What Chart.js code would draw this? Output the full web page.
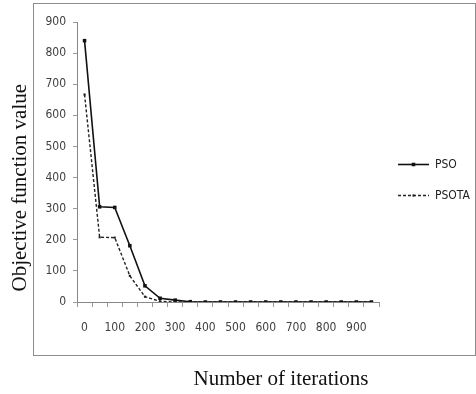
<!DOCTYPE html>
<html>
<head>
<meta charset="utf-8">
<script src="https://cdn.jsdelivr.net/npm/chart.js@4/dist/chart.umd.min.js"></script>
<style>
    body { margin: 0; background: #fff; }
    #wrap { position: relative; width: 476px; height: 394px; }
    #frame {
        position: absolute; left: 33px; top: 3px; width: 443px; height: 353px;
        box-sizing: border-box; border: 1px solid #8c8c8c;
    }
    #chart { position: absolute; left: 0; top: 0; }
</style>
</head>
<body>
<div id="wrap">
    <div id="frame"></div>
    <canvas id="chart" width="476" height="394"></canvas>
</div>
<script>
// iterations (category axis)
const iterations = ['0', '50', '100', '150', '200', '250', '300', '350', '400', '450',
    '500', '550', '600', '650', '700', '750', '800', '850', '900', '950'];

// objective function value per iteration
const psoValues = [840, 306, 304, 181, 52, 12, 6, 1, 0, 0, 0, 0, 0, 0, 0, 0, 0, 0, 0, 0];
const psotaValues = [667, 208, 207, 84, 17, 2, 0, 0, 0, 0, 0, 0, 0, 0, 0, 0, 0, 0, 0, 0];

const yTicks = [0, 100, 200, 300, 400, 500, 600, 700, 800, 900];

const tickFont = { family: "'Liberation Sans Narrow', 'Arial Narrow', 'DejaVu Sans Condensed', sans-serif", size: 12 };
const titleFont = { family: "'Liberation Serif', 'Times New Roman', serif", size: 21 };

// puts the small square marker on the middle of each legend line (Excel style)
const legendMarkers = {
    id: 'legendMarkers',
    afterDraw(chart) {
        const legend = chart.legend;
        if (!legend || !legend.legendHitBoxes) return;
        const c = chart.ctx;
        legend.legendItems.forEach((item, i) => {
            const ds = chart.data.datasets[item.datasetIndex];
            const box = legend.legendHitBoxes[i];
            const size = ds.pointRadius * Math.SQRT2;
            const cx = box.left + legend.options.labels.pointStyleWidth / 2;
            const cy = box.top + box.height / 2;
            c.save();
            c.fillStyle = ds.backgroundColor;
            c.fillRect(cx - size / 2, cy - size / 2, size, size);
            c.restore();
        });
    }
};

const ctx = document.getElementById('chart').getContext('2d');
new Chart(ctx, {
    type: 'line',
    data: {
        labels: iterations,
        datasets: [{
            label: 'PSO',
            data: psoValues,
            borderColor: '#111',
            backgroundColor: '#111',
            borderWidth: 1.6,
            pointStyle: 'rect',
            pointRadius: 2.5,
            pointBorderWidth: 0,
            tension: 0
        }, {
            label: 'PSOTA',
            data: psotaValues,
            borderColor: '#222',
            backgroundColor: '#222',
            borderWidth: 1.4,
            borderDash: [3, 2],
            pointStyle: 'rect',
            pointRadius: 1.5,
            pointBorderWidth: 0,
            tension: 0
        }]
    },
    options: {
        responsive: false,
        animation: false,
        layout: { padding: { top: 22, left: 0, right: 0, bottom: 0 } },
        plugins: {
            tooltip: { enabled: false },
            legend: {
                position: 'right',
                fullSize: false,
                maxWidth: 97,
                // blank title only pushes the two entries down a bit
                title: { display: true, text: ' ', font: { size: 12 }, padding: 10.8 },
                labels: {
                    usePointStyle: true,
                    pointStyle: 'line',
                    pointStyleWidth: 31,
                    padding: 19,
                    color: '#222',
                    font: tickFont,
                    generateLabels: chart => {
                        const items = Chart.defaults.plugins.legend.labels.generateLabels(chart);
                        items.forEach(item => {
                            const ds = chart.data.datasets[item.datasetIndex];
                            item.pointStyle = 'line';
                            item.lineWidth = ds.borderWidth;
                            item.strokeStyle = ds.borderColor;
                            item.lineDash = ds.borderDash || [];
                        });
                        return items;
                    }
                }
            }
        },
        scales: {
            x: {
                type: 'category',
                offset: true,
                afterFit: scale => { scale.height = 92; },
                grid: {
                    offset: true,
                    drawOnChartArea: false,
                    tickLength: 5,
                    color: '#999'
                },
                border: { color: '#888', width: 1 },
                ticks: {
                    autoSkip: false,
                    maxRotation: 0,
                    padding: 14,
                    color: '#404040',
                    font: tickFont,
                    callback: function(value, index) {
                        return index % 2 === 0 ? this.getLabelForValue(value) : '';
                    }
                },
                title: {
                    display: true,
                    text: 'Number of iterations\u00a0\u00a0',
                    align: 'end',
                    color: '#111',
                    font: titleFont,
                    padding: { top: 0, bottom: 2 }
                }
            },
            y: {
                min: yTicks[0],
                max: yTicks[yTicks.length - 1],
                afterFit: scale => { scale.width = 77; },
                afterBuildTicks: scale => { scale.ticks = yTicks.map(v => ({ value: v })); },
                grid: {
                    drawOnChartArea: false,
                    tickLength: 4,
                    color: '#999'
                },
                border: { color: '#888', width: 1 },
                ticks: {
                    padding: 7,
                    color: '#404040',
                    font: tickFont
                },
                title: {
                    display: true,
                    text: '\u00a0\u00a0Objective function value',
                    align: 'start',
                    color: '#111',
                    font: titleFont,
                    padding: { top: 8, bottom: 0 }
                }
            }
        }
    },
    plugins: [legendMarkers]
});
</script>
</body>
</html>
